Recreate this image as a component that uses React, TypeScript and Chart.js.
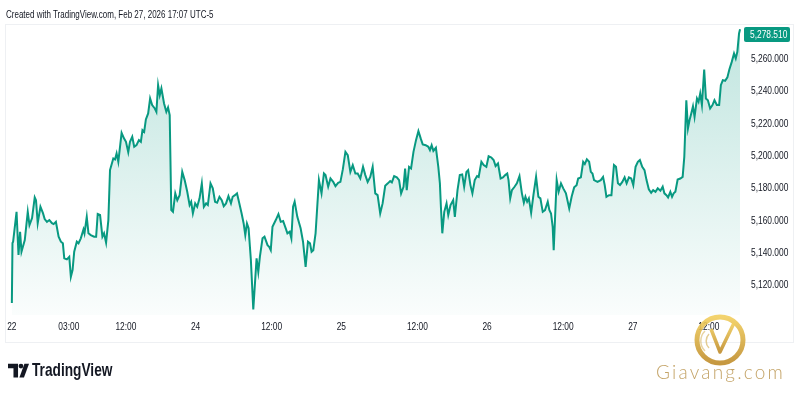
import React, { useEffect, useRef } from "react";
import { Chart, registerables } from "chart.js";

Chart.register(...registerables);

// Trading hours since the session open (Sun Feb 22, 18:00 ET)
const hours = [
  0, 0.1, 0.2, 0.74, 1.05, 1.3, 1.52, 2.04, 2.51, 2.78,
  3.19, 3.61, 3.81, 4.08, 4.51, 4.91, 5.18, 5.54, 5.92, 6.33,
  6.59, 6.95, 7.38, 7.74, 8.05, 8.27, 8.68, 9.06, 9.31, 9.58,
  9.84, 10.25, 10.52, 10.88, 11.3, 11.46, 11.82, 12.09, 12.45, 12.98,
  13.3, 13.55, 13.92, 14.29, 14.55, 14.87, 15.23, 15.49, 16.01, 16.28,
  16.53, 16.8, 17.32, 17.69, 18.01, 18.37, 18.64, 19.0, 19.31, 19.67,
  20.05, 20.36, 20.61, 20.88, 21.15, 21.51, 21.82, 22.14, 22.56, 22.81,
  23.08, 23.34, 23.6, 24.02, 24.38, 24.65, 24.91, 25.16, 25.43, 25.79,
  26.11, 26.48, 26.89, 27.27, 27.68, 28.05, 28.3, 28.57, 28.93, 29.25,
  29.62, 29.98, 30.3, 30.66, 30.93, 31.35, 31.71, 32.07, 32.39, 32.76,
  33.12, 33.44, 33.8, 34.18, 34.58, 34.85, 35.21, 35.53, 35.9, 36.26,
  36.58, 36.84, 37.1, 37.36, 37.72, 38.1, 38.62, 38.89, 39.14, 39.56,
  39.87, 40.35, 40.61, 40.86, 41.13, 41.65, 42.07, 42.43, 42.81, 43.22,
  43.49, 43.85, 44.11, 44.38, 44.63, 45.05, 45.57, 45.95, 46.36, 46.73,
  47.05, 47.3, 47.57, 47.93, 48.46, 48.87, 49.25, 49.5, 49.92, 50.28,
  50.71, 51.07, 51.49, 51.85, 52.23, 52.64, 53.01, 53.42, 53.8, 54.21,
  54.58, 54.99, 55.42, 55.78, 56.15, 56.56, 56.94, 57.35, 57.72, 58.13,
  58.51, 58.92, 59.34, 59.7, 59.97, 60.33, 60.75, 61.11, 61.43, 61.81,
  62.06, 62.32, 62.68, 63.0, 63.38, 63.78, 64.16, 64.52, 64.84, 65.31,
  65.73, 65.98, 66.25, 66.52, 66.92, 67.3, 67.55, 67.71, 67.93, 68.24,
  68.6, 68.87, 69.23, 69.65, 69.91, 70.33, 70.69, 71.07, 71.38, 71.74,
  72.01, 72.37, 72.68, 73.05, 73.42, 73.67, 74.1, 74.46, 74.88, 75.24,
  75.67, 76.03, 76.34, 76.72, 77.13, 77.5, 77.86, 78.18, 78.38, 78.65,
  78.92, 79.33, 79.7, 80.11, 80.49, 80.8, 81.05, 81.32, 81.59, 81.95,
  82.31, 82.73, 83.09, 83.41, 83.78, 84.14, 84.57, 84.82, 85.09, 85.35,
  85.51, 85.71, 85.98, 86.29, 86.66, 87.02, 87.44, 87.96, 88.34, 88.74,
  89.12, 89.37, 89.8, 90.16, 90.42, 90.74, 91.1, 91.37, 91.63, 91.88,
  92.42, 92.94, 93.3, 93.56, 93.83, 94.24, 94.62, 95.02, 95.34, 95.65,
  95.97, 96.34, 96.7, 97.02, 97.38, 97.75, 98.07, 98.43, 98.79, 99.11,
  99.48, 99.84, 100.16, 100.52, 100.89, 101.21, 101.57, 101.93, 102.35, 102.71,
  102.98, 103.3, 103.56, 103.92, 104.19, 104.44, 104.71, 105.07, 105.49, 105.86,
  106.12, 106.44, 106.7, 106.95, 107.22, 107.49, 107.74, 108.12, 108.37, 108.63,
  108.9, 109.26, 109.53, 109.84, 110.2, 110.57, 110.88, 111.26, 111.62, 111.89,
  112.2, 112.56, 112.92, 113.23, 113.61, 113.97, 114.24, 114.49, 114.76, 114.92,
];

const prices = [
  5109.2, 5146.3, 5147.1, 5165.6, 5138.9, 5153.3, 5140.9, 5148.1, 5165.6, 5157.4,
  5161.7, 5174.5, 5172.8, 5158.6, 5168.7, 5164.8, 5161.1, 5159.4, 5160.5, 5158.6,
  5158.0, 5159.4, 5150.2, 5147.1, 5146.1, 5136.8, 5136.2, 5137.8, 5125.4, 5129.6,
  5140.9, 5147.1, 5146.1, 5149.2, 5154.7, 5152.3, 5162.5, 5152.3, 5151.2, 5150.2,
  5150.2, 5164.2, 5163.6, 5150.2, 5152.3, 5146.5, 5160.5, 5191.4, 5198.6, 5198.0,
  5201.7, 5196.5, 5214.4, 5211.0, 5208.9, 5202.5, 5208.9, 5212.0, 5205.8, 5206.8,
  5209.9, 5208.9, 5216.1, 5215.0, 5222.7, 5226.4, 5235.7, 5231.6, 5229.5, 5227.4,
  5243.9, 5237.7, 5241.9, 5232.6, 5227.4, 5230.1, 5225.4, 5166.7, 5165.6, 5177.0,
  5172.8, 5175.9, 5190.3, 5185.2, 5178.0, 5169.8, 5171.8, 5164.6, 5170.8, 5168.7,
  5173.9, 5183.2, 5168.7, 5170.8, 5169.8, 5183.2, 5180.1, 5171.8, 5171.2, 5174.9,
  5172.8, 5169.1, 5170.8, 5175.3, 5170.8, 5174.9, 5175.9, 5177.0, 5170.8, 5164.6,
  5158.4, 5151.2, 5158.4, 5155.4, 5135.8, 5105.3, 5136.8, 5128.5, 5137.8, 5149.2,
  5150.2, 5145.0, 5144.0, 5141.9, 5156.3, 5160.5, 5164.2, 5159.4, 5159.9, 5155.4,
  5152.3, 5153.3, 5149.2, 5168.7, 5171.8, 5162.5, 5155.4, 5147.1, 5131.6, 5147.1,
  5146.1, 5140.9, 5141.9, 5152.3, 5185.2, 5177.0, 5189.3, 5188.3, 5181.1, 5186.2,
  5184.1, 5181.5, 5183.5, 5184.1, 5191.8, 5202.7, 5200.6, 5190.3, 5194.5, 5189.3,
  5189.3, 5186.2, 5193.4, 5188.3, 5184.1, 5187.2, 5193.4, 5177.0, 5175.9, 5164.6,
  5170.8, 5181.7, 5183.2, 5184.6, 5183.8, 5187.7, 5186.9, 5185.2, 5177.0, 5181.1,
  5192.4, 5179.0, 5193.4, 5192.4, 5202.7, 5209.9, 5215.5, 5211.0, 5207.3, 5206.8,
  5205.8, 5203.7, 5206.8, 5203.3, 5205.2, 5193.4, 5183.2, 5168.7, 5152.3, 5165.6,
  5170.8, 5163.6, 5169.8, 5172.8, 5162.5, 5179.0, 5188.3, 5188.7, 5181.1, 5190.3,
  5191.4, 5182.1, 5177.0, 5185.2, 5187.7, 5187.2, 5196.5, 5194.5, 5193.4, 5200.0,
  5199.2, 5197.6, 5193.9, 5195.5, 5186.2, 5186.9, 5188.3, 5189.3, 5185.2, 5173.9,
  5179.0, 5181.1, 5183.2, 5187.7, 5177.0, 5171.2, 5174.9, 5171.8, 5173.9, 5165.0,
  5175.9, 5187.2, 5174.9, 5173.9, 5165.6, 5166.7, 5171.8, 5166.7, 5164.6, 5156.3,
  5141.9, 5160.5, 5185.2, 5178.0, 5183.2, 5180.1, 5177.0, 5167.7, 5174.9, 5180.7,
  5182.1, 5186.2, 5186.9, 5196.5, 5195.1, 5198.0, 5196.5, 5190.3, 5189.3, 5185.2,
  5184.1, 5185.2, 5187.2, 5182.1, 5174.9, 5175.9, 5175.9, 5194.5, 5193.4, 5183.2,
  5182.1, 5184.1, 5186.9, 5183.2, 5186.9, 5186.2, 5182.1, 5193.4, 5196.5, 5197.6,
  5193.4, 5191.4, 5185.2, 5179.5, 5177.4, 5179.0, 5178.0, 5180.1, 5178.6, 5181.1,
  5177.0, 5175.9, 5174.5, 5178.0, 5174.9, 5177.0, 5178.0, 5185.6, 5186.2, 5187.2,
  5199.6, 5234.6, 5217.2, 5222.3, 5226.4, 5230.9, 5224.3, 5235.7, 5233.6, 5238.8,
  5231.6, 5253.6, 5235.7, 5234.6, 5229.5, 5231.6, 5234.6, 5231.6, 5231.6, 5243.9,
  5247.0, 5246.6, 5248.7, 5253.6, 5258.3, 5263.5, 5260.4, 5264.5, 5275.9, 5278.51,
];

// Time-axis labels (position in trading hours since open)
const tickHours = [0, 9, 18, 29, 41, 52, 64, 75, 87, 98, 110];
const tickLabels = ["22", "03:00", "12:00", "24", "12:00", "25", "12:00", "26", "12:00", "27", "12:00"];

// Price-axis labels
const priceTicks = [5120, 5140, 5160, 5180, 5200, 5220, 5240, 5260];

const LINE = "#089981";
const TEXT = "#131722";
const SANS = "'Liberation Sans', Arial, sans-serif";
const SQUEEZE = 0.8; // Narrow face emulation (Arial Narrow ~ 82% of Arial)

const fmt = (v: number) =>
  v.toLocaleString("en-US", { minimumFractionDigits: 3, maximumFractionDigits: 3 });

export default function App() {
  const ref = useRef<HTMLCanvasElement>(null);

  useEffect(() => {
    const canvas = ref.current;
    if (!canvas) return;
    const lastPrice = prices[prices.length - 1];

    const extras = {
      id: "extras",
      beforeInit(chart: any) {
        const c = chart.ctx;
        const orig = c.fillText.bind(c);
        c.fillText = (text: string, x: number, y: number, maxWidth?: number) => {
          c.save();
          c.translate(x, y);
          c.scale(SQUEEZE, 1);
          if (maxWidth !== undefined) orig(text, 0, 0, maxWidth / SQUEEZE);
          else orig(text, 0, 0);
          c.restore();
        };
      },
      beforeDraw(chart: any) {
        const c = chart.ctx;
        c.save();
        c.fillStyle = "#ffffff";
        c.fillRect(0, 0, chart.width, chart.height);
        c.strokeStyle = "#eef0f3";
        c.lineWidth = 1;
        c.strokeRect(5.5, 24.5, 788, 318);
        c.restore();
      },
      afterDraw(chart: any) {
        const c = chart.ctx;
        const y = chart.scales.y.getPixelForValue(lastPrice);
        const h = 15;
        const top = Math.max(y - h / 2, chart.chartArea.top + 2);
        const left = chart.chartArea.right - 1;
        c.save();
        c.fillStyle = LINE;
        c.beginPath();
        if (c.roundRect) c.roundRect(left, top, 46, h, 2);
        else c.rect(left, top, 46, h);
        c.fill();
        c.fillStyle = "#ffffff";
        c.font = `10.5px ${SANS}`;
        c.textBaseline = "middle";
        c.textAlign = "left";
        c.fillText(fmt(lastPrice), left + 6, top + h / 2 + 0.5);
        c.restore();
      },
    };

    const chart = new Chart(canvas, {
      type: "line",
      data: {
        datasets: [
          {
            data: hours.map((h, i) => ({ x: h, y: prices[i] })),
            borderColor: LINE,
            borderWidth: 2,
            pointRadius: 0,
            tension: 0,
            fill: "start",
            backgroundColor: (ctx: any) => {
              const area = ctx.chart.chartArea;
              if (!area) return "rgba(8,153,129,0.1)";
              const g = ctx.chart.ctx.createLinearGradient(0, area.top, 0, area.bottom);
              g.addColorStop(0, "rgba(8,153,129,0.26)");
              g.addColorStop(1, "rgba(8,153,129,0.02)");
              return g;
            },
          },
        ],
      },
      options: {
        animation: false,
        responsive: false,
        events: [],
        layout: { padding: { left: 6, top: 25, right: 0, bottom: 60 } },
        plugins: { legend: { display: false }, tooltip: { enabled: false } },
        scales: {
          x: {
            type: "linear",
            min: -0.31,
            max: 115.7,
            grid: { display: false, drawTicks: false },
            border: { display: false },
            afterBuildTicks: (scale: any) => {
              scale.ticks = tickHours.map((v) => ({ value: v }));
            },
            afterFit: (scale: any) => {
              scale.height = 25;
            },
            ticks: {
              autoSkip: false,
              maxRotation: 0,
              padding: 6,
              color: TEXT,
              font: { family: SANS, size: 10.5 },
              callback: (v: any) => {
                const i = tickHours.indexOf(Number(v));
                return i >= 0 ? tickLabels[i] : "";
              },
            },
          },
          y: {
            type: "linear",
            position: "right",
            min: 5101.8,
            max: 5281.1,
            grid: { display: false, drawTicks: false },
            border: { display: false },
            afterBuildTicks: (scale: any) => {
              scale.ticks = priceTicks.map((v) => ({ value: v }));
            },
            afterFit: (scale: any) => {
              scale.width = 55;
            },
            ticks: {
              padding: 6,
              crossAlign: "near",
              color: TEXT,
              font: { family: SANS, size: 10.5 },
              callback: (v: any) => fmt(Number(v)),
            },
          },
        },
      },
      plugins: [extras],
    } as any);

    return () => chart.destroy();
  }, []);

  return (
    <div style={{ position: "fixed", left: 0, top: 0, width: 800, height: 400, background: "#fff", overflow: "hidden" }}>
      <canvas ref={ref} width={800} height={400} style={{ position: "absolute", left: 0, top: 0, width: 800, height: 400 }} />
      <div
        style={{
          position: "absolute", left: 6, top: 9, fontFamily: SANS, fontSize: 10,
          color: TEXT, whiteSpace: "nowrap", lineHeight: "12px",
          transform: `scaleX(${SQUEEZE})`, transformOrigin: "0 0",
        }}
      >
        Created with TradingView.com, Feb 27, 2026 17:07 UTC-5
      </div>
      <svg style={{ position: "absolute", left: 8, top: 363 }} width={21} height={16} viewBox="0 0 23 16">
        <path d="M0 0H11V15H6V5H0Z" fill={TEXT} />
        <circle cx="14.2" cy="2.6" r="2.6" fill={TEXT} />
        <path d="M12.5 15L18 0H23L17.5 15Z" fill={TEXT} />
      </svg>
      <div
        style={{
          position: "absolute", left: 32, top: 359, fontFamily: SANS, fontSize: 18.5, fontWeight: 700,
          color: TEXT, whiteSpace: "nowrap", lineHeight: "22px",
          transform: "scaleX(0.74)", transformOrigin: "0 0",
        }}
      >
        TradingView
      </div>
      <svg style={{ position: "absolute", left: 693, top: 313 }} width={54} height={54} viewBox="0 0 54 54">
        <defs>
          <linearGradient id="gold" x1="0" y1="0" x2="0" y2="1">
            <stop offset="0" stopColor="#f2cf5e" />
            <stop offset="1" stopColor="#c08d2c" />
          </linearGradient>
        </defs>
        <circle cx="27" cy="27" r="23" fill="none" stroke="url(#gold)" strokeWidth="5" opacity="0.9" />
        <path d="M18 16 L27 39 L41 10" fill="none" stroke="url(#gold)" strokeWidth="3.5" strokeLinejoin="round" opacity="0.9" />
        <path d="M16 21 A10 10 0 0 0 16 35" fill="none" stroke="#d9b866" strokeWidth="1.5" opacity="0.7" />
        <path d="M12 18 A14 14 0 0 0 12 38" fill="none" stroke="#d9b866" strokeWidth="1.5" opacity="0.6" />
      </svg>
      <div
        style={{
          position: "absolute", left: 656, top: 361, fontFamily: "Lato, 'Open Sans', sans-serif", fontSize: 19,
          fontWeight: 300, letterSpacing: 2.2, color: "#c4a468", whiteSpace: "nowrap", lineHeight: "22px",
        }}
      >
        Giavang.com
      </div>
    </div>
  );
}
